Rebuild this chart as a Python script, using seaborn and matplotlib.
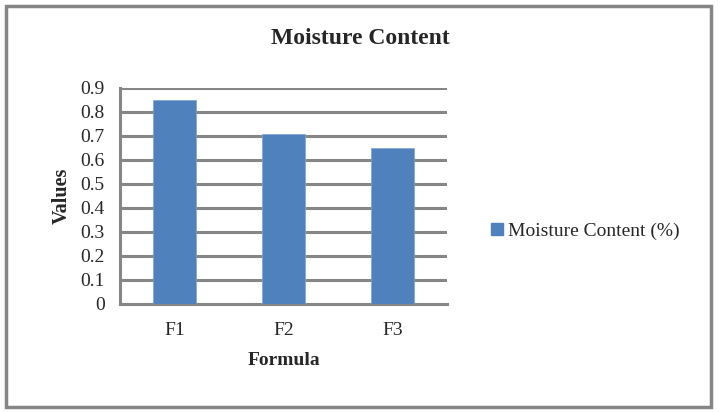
import matplotlib
matplotlib.use("Agg")
import matplotlib.pyplot as plt
import seaborn as sns
import pandas as pd
from matplotlib.patches import Rectangle, Patch

categories = ["F1", "F2", "F3"]
values = [0.85, 0.71, 0.65]
series_name = "Moisture Content (%)"
yticks = [0, 0.1, 0.2, 0.3, 0.4, 0.5, 0.6, 0.7, 0.8, 0.9]
ytick_labels = ["0", "0.1", "0.2", "0.3", "0.4", "0.5", "0.6", "0.7", "0.8", "0.9"]

sns.set_style("white")
plt.rcParams['font.family'] = ['Liberation Serif', 'DejaVu Serif']

df = pd.DataFrame({"Formula": categories, "Values": values})

fig = plt.figure(figsize=(7.21, 4.12), dpi=100)
ax = fig.add_axes([120/721, 1-304/412, 327/721, 216/412])

bar_color = "#4F81BD"
grid_color = "#868686"

sns.barplot(data=df, x="Formula", y="Values", color=bar_color, width=0.394,
            saturation=1, ax=ax, zorder=3)
for p in ax.patches:
    p.set_edgecolor("#7FA3D6")
    p.set_linewidth(0.5)

ax.set_xlim(-0.5, 2.5)
ax.set_ylim(0, 0.9)
ax.set_yticks(yticks)
ax.set_yticklabels(ytick_labels)
ax.yaxis.grid(True, color=grid_color, linewidth=2.2, zorder=0)
ax.set_axisbelow(True)

for s in ["top", "right"]:
    ax.spines[s].set_visible(False)
ax.spines["left"].set_color(grid_color)
ax.spines["left"].set_linewidth(2.2)
ax.spines["bottom"].set_color(grid_color)
ax.spines["bottom"].set_linewidth(2.2)

ax.tick_params(axis="y", direction="out", length=5, width=2.2, color=grid_color,
               pad=6, labelsize=14)
ax.set_xticks([0, 1, 2])
ax.set_xticklabels(categories)
ax.set_xticks([-0.5, 0.5, 1.5, 2.5], minor=True)
ax.tick_params(axis="x", which="major", length=0, pad=13, labelsize=14)
ax.tick_params(axis="x", which="minor", direction="out", length=5, width=2.2,
               color=grid_color)

ax.set_xlabel("Formula", fontsize=14, fontweight="bold", labelpad=9)
ax.set_ylabel("Values", fontsize=14.5, fontweight="bold", labelpad=6)

fig.text(360/721, 1-38/412, "Moisture Content", ha="center", va="center",
         fontsize=17, fontweight="bold")

handle = Patch(facecolor=bar_color, edgecolor=bar_color)
fig.legend([handle], [series_name], loc="center left",
           bbox_to_anchor=(491/721, 1-231/412), frameon=False, fontsize=14,
           borderpad=0, borderaxespad=0,
           handlelength=0.6, handleheight=0.6, handletextpad=0.25)

fig.patches.append(Rectangle((6/721, 5/412), 705/721, 401/412, transform=fig.transFigure,
                             fill=False, edgecolor=grid_color, linewidth=2.5))

fig.savefig("out.png", dpi=100)
